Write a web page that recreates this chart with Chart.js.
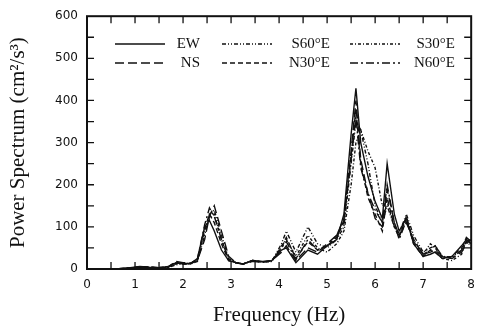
<!DOCTYPE html>
<html lang="en">
<head>
    <meta charset="UTF-8">
    <title>Power Spectrum</title>
    <script src="https://cdn.jsdelivr.net/npm/chart.js"></script>
    <style>
        html, body { margin: 0; padding: 0; background: #fff; }
        #wrap { width: 484px; height: 332px; }
    </style>
</head>
<body>
<div id="wrap"><canvas id="grafico"></canvas></div>
<script>
    // frequencies (Hz) shared by all components
    const freqs = [0, 0.6, 0.9, 1.1, 1.3, 1.5, 1.7, 1.85, 2.0, 2.15, 2.3, 2.45, 2.55, 2.65, 2.8, 2.95,
        3.1, 3.25, 3.45, 3.65, 3.85, 4.05, 4.15, 4.35, 4.6, 4.8, 5.0, 5.2, 5.35, 5.5, 5.6, 5.7,
        5.85, 6.0, 6.15, 6.25, 6.4, 6.5, 6.65, 6.8, 7.0, 7.15, 7.25, 7.4, 7.6, 7.8, 7.9, 8.0];

    const ew   = [0, 0, 3, 6, 4, 3, 5, 15, 12, 13, 25, 100, 115, 90, 45, 20, 15, 12, 20, 18, 20, 45, 50, 15, 45, 35, 55, 70, 130, 320, 429, 300, 220, 160, 120, 250, 130, 90, 120, 60, 30, 35, 40, 25, 30, 55, 70, 60];
    const ns   = [0, 0, 2, 5, 5, 3, 6, 18, 15, 14, 20, 70, 125, 150, 90, 30, 15, 12, 18, 16, 20, 40, 55, 20, 50, 40, 60, 80, 120, 280, 400, 260, 180, 120, 100, 190, 110, 80, 110, 70, 35, 40, 45, 30, 25, 40, 60, 70];
    const s60e = [0, 0, 2, 4, 3, 3, 4, 10, 12, 12, 18, 80, 130, 140, 80, 25, 14, 12, 19, 17, 18, 60, 90, 40, 100, 60, 50, 70, 100, 250, 350, 330, 250, 150, 110, 150, 100, 85, 130, 80, 40, 50, 55, 30, 28, 45, 65, 55];
    const s30e = [0, 0, 2, 5, 4, 3, 5, 12, 14, 13, 22, 90, 120, 130, 70, 22, 15, 12, 20, 16, 18, 55, 70, 30, 80, 50, 40, 60, 90, 200, 300, 330, 280, 240, 150, 160, 100, 80, 120, 70, 35, 60, 50, 25, 20, 35, 70, 60];
    const n30e = [0, 0, 3, 5, 4, 3, 5, 14, 13, 12, 20, 95, 130, 110, 60, 20, 15, 12, 20, 17, 19, 50, 75, 25, 65, 45, 55, 75, 110, 270, 380, 250, 170, 130, 90, 170, 100, 75, 125, 60, 30, 45, 40, 25, 30, 50, 65, 70];
    const n60e = [0, 0, 2, 4, 4, 3, 6, 16, 14, 13, 24, 105, 145, 125, 70, 22, 15, 12, 20, 17, 20, 50, 65, 22, 70, 45, 55, 80, 115, 260, 360, 240, 180, 140, 110, 200, 110, 70, 115, 65, 35, 45, 55, 30, 25, 45, 75, 65];

    const seriesNames = ['EW', 'NS', 'S60°E', 'N30°E', 'S30°E', 'N60°E'];
    const seriesData = [ew, ns, s60e, n30e, s30e, n60e];
    const dashes = [[], [9, 4], [4, 2, 1, 2, 1, 2], [5, 3], [3, 2, 1, 2], [8, 3, 2, 3]];

    const yTicks = [0, 100, 200, 300, 400, 500, 600];
    const xTicks = [0, 1, 2, 3, 4, 5, 6, 7, 8];

    const datasets = seriesNames.map((name, i) => ({
        label: name,
        data: freqs.map((f, j) => ({ x: f, y: seriesData[i][j] })),
        borderColor: '#111',
        borderWidth: 1.4,
        borderDash: dashes[i],
        pointRadius: 0,
        tension: 0,
        fill: false
    }));

    // frame, inward ticks and legend
    const marcoPlugin = {
        id: 'marco',
        afterDraw(chart) {
            const ctx = chart.ctx;
            const a = chart.chartArea;
            const xs = chart.scales.x, ys = chart.scales.y;
            ctx.save();
            ctx.strokeStyle = '#111';
            ctx.lineWidth = 2;
            ctx.setLineDash([]);
            ctx.strokeRect(a.left, a.top, a.right - a.left, a.bottom - a.top);
            ctx.lineWidth = 1.3;
            ctx.beginPath();
            for (let v = 0.5; v < 8; v += 0.5) {
                const px = xs.getPixelForValue(v);
                ctx.moveTo(px, a.bottom); ctx.lineTo(px, a.bottom - 7);
                ctx.moveTo(px, a.top); ctx.lineTo(px, a.top + 7);
            }
            for (let v = 50; v < 600; v += 50) {
                const py = ys.getPixelForValue(v);
                ctx.moveTo(a.left, py); ctx.lineTo(a.left + 7, py);
                ctx.moveTo(a.right, py); ctx.lineTo(a.right - 7, py);
            }
            ctx.stroke();

            // legend: 3 columns x 2 rows
            ctx.font = '15px "Liberation Serif", serif';
            ctx.fillStyle = '#111';
            ctx.textBaseline = 'middle';
            const colX = [115, 222, 350];
            const textX = [200, 330, 455];
            const rowY = [44, 63];
            seriesNames.forEach((name, i) => {
                const c = Math.floor(i / 2), r = i % 2;
                ctx.setLineDash(dashes[i]);
                ctx.lineWidth = 1.3;
                ctx.beginPath();
                ctx.moveTo(colX[c], rowY[r]);
                ctx.lineTo(colX[c] + 50, rowY[r]);
                ctx.stroke();
                ctx.textAlign = 'right';
                ctx.fillText(name, textX[c], rowY[r]);
            });
            ctx.restore();
        }
    };

    const ctx = document.getElementById('grafico').getContext('2d');
    new Chart(ctx, {
        type: 'line',
        data: { datasets },
        options: {
            responsive: true,
            maintainAspectRatio: false,
            animation: false,
            layout: { padding: { top: 16, right: 3, left: 0, bottom: 0 } },
            plugins: { legend: { display: false }, tooltip: { enabled: false } },
            scales: {
                x: {
                    type: 'linear',
                    min: 0, max: 8,
                    afterBuildTicks(s) { s.ticks = xTicks.map(v => ({ value: v })); },
                    afterFit(s) { s.height = 63; },
                    grid: { display: false, drawTicks: false },
                    border: { display: false },
                    ticks: { color: '#111', padding: 9, font: { family: 'DejaVu Sans', size: 12 } },
                    title: {
                        display: true, text: 'Frequency (Hz)', color: '#111',
                        font: { family: '"Liberation Serif", serif', size: 21 },
                        padding: { top: 10 }
                    }
                },
                y: {
                    min: 0, max: 600,
                    afterBuildTicks(s) { s.ticks = yTicks.map(v => ({ value: v })); },
                    afterFit(s) { s.width = 87; },
                    grid: { display: false, drawTicks: false },
                    border: { display: false },
                    ticks: { color: '#111', padding: 9, font: { family: 'DejaVu Sans', size: 12 } },
                    title: {
                        display: true, text: 'Power Spectrum (cm²/s³)', color: '#111',
                        font: { family: '"Liberation Serif", serif', size: 21 },
                        padding: 6
                    }
                }
            }
        },
        plugins: [marcoPlugin]
    });
</script>
</body>
</html>
